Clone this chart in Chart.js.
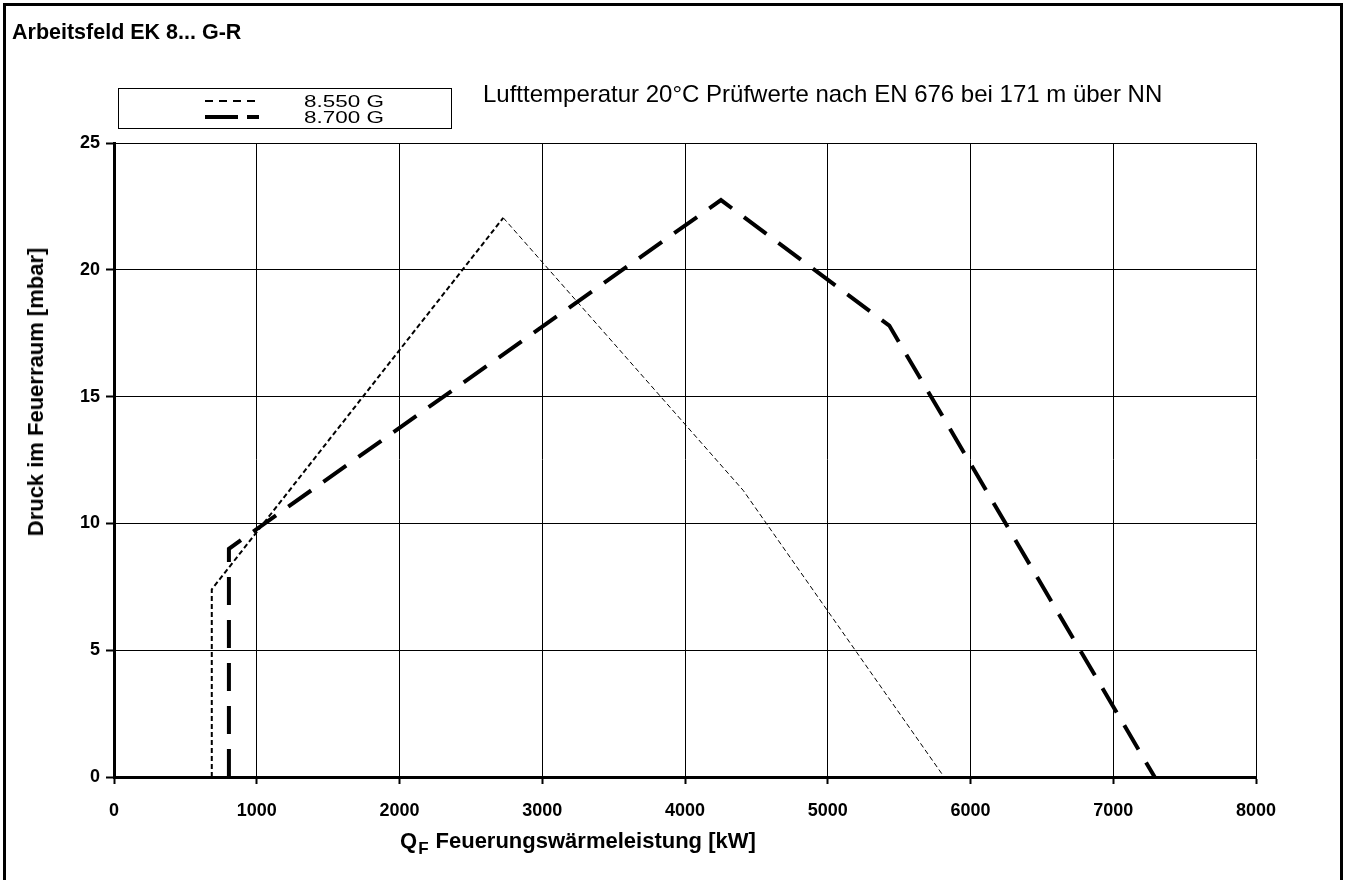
<!DOCTYPE html>
<html>
<head>
<meta charset="utf-8">
<title>Arbeitsfeld EK 8... G-R</title>
<script src="https://cdn.jsdelivr.net/npm/chart.js@4.4.0/dist/chart.umd.min.js"></script>
<style>
    body { margin: 0; background: #fff; font-family: Arial, "Liberation Sans", sans-serif; color: #000; }
    #page { position: relative; width: 1346px; height: 880px; overflow: hidden; }
    #frame { position: absolute; left: 3px; top: 3px; width: 1334px; height: 900px; border: 3px solid #000; }
    #chartBox { position: absolute; left: 0; top: 0; width: 1346px; height: 880px; }
    #title { position: absolute; left: 12px; top: 20px; font-weight: bold; font-size: 21.5px; white-space: nowrap; }
    #subtitle { position: absolute; left: 483px; top: 80px; font-size: 24px; white-space: nowrap; }
    #legend { position: absolute; left: 118px; top: 88px; width: 334px; height: 41px; border: 1px solid #000; box-sizing: border-box; }
    .legend-row { position: absolute; left: 0; height: 16px; width: 100%; }
    .legend-row svg { position: absolute; left: 86px; top: 0; }
    .legend-row span { position: absolute; left: 185px; top: -1px; font-size: 16.5px; line-height: 18px;
                       transform: scaleX(1.36); transform-origin: left center; white-space: nowrap; }
    #yTitle { position: absolute; left: 36px; top: 392px; transform: translate(-50%, -50%) rotate(-90deg);
              font-weight: bold; font-size: 22px; white-space: nowrap; }
    #xTitle { position: absolute; left: 400px; top: 828px; font-weight: bold; font-size: 22px; white-space: nowrap; }
    #xTitle sub { font-size: 17px; vertical-align: -6px; margin-left: 1px; margin-right: 7px; }
</style>
</head>
<body>
<div id="page">
    <div id="frame"></div>
    <div id="chartBox"><canvas id="fieldChart"></canvas></div>
    <div id="title">Arbeitsfeld EK 8... G-R</div>
    <div id="subtitle">Lufttemperatur 20°C Prüfwerte nach EN 676 bei 171 m über NN</div>
    <div id="legend"></div>
    <div id="yTitle">Druck im Feuerraum [mbar]</div>
    <div id="xTitle">Q<sub>F</sub>Feuerungswärmeleistung [kW]</div>
</div>

<script>
// Series names
const seriesNames = ['8.550 G', '8.700 G'];

// 8.550 G - Feuerungswärmeleistung [kW] / Druck [mbar]
const leistung550 = [685, 685, 2727, 4408, 5815];
const druck550 = [0, 7.4, 22.05, 11.3, 0];

// 8.700 G
const leistung700 = [805, 805, 4252, 5431, 7290];
const druck700 = [0, 9.0, 22.75, 17.8, 0];

// Axis ranges / ticks
const xMin = 0, xMax = 8000, xStep = 1000;
const yMin = 0, yMax = 25, yStep = 5;

// Line styles per series
const lineStyles = [
    { width: 2, dash: [5, 3], legendDash: '8,6' },
    { width: 4, dash: [28, 15], legendDash: '33,9' }
];

function toPoints(xs, ys) {
    return xs.map((x, i) => ({ x: x, y: ys[i] }));
}

// Build legend in HTML
function buildLegend() {
    const legend = document.getElementById('legend');
    seriesNames.forEach((name, i) => {
        const row = document.createElement('div');
        row.className = 'legend-row';
        row.style.top = (i === 0 ? 4 : 20) + 'px';
        const st = lineStyles[i];
        row.innerHTML = `
            <svg width="54" height="16"><line x1="0" y1="8" x2="54" y2="8" stroke="#000"
                stroke-width="${st.width}" stroke-dasharray="${st.legendDash}"/></svg>
            <span>${name}</span>`;
        legend.appendChild(row);
    });
}

function initChart() {
    const ctx = document.getElementById('fieldChart');
    const fontTicks = { family: 'Arial, "Liberation Sans", sans-serif', size: 18, weight: 'bold' };

    new Chart(ctx, {
        type: 'line',
        data: {
            datasets: [
                {
                    label: seriesNames[0],
                    data: toPoints(leistung550, druck550),
                    borderColor: '#000',
                    borderWidth: lineStyles[0].width,
                    borderDash: lineStyles[0].dash,
                    pointRadius: 0,
                    tension: 0,
                    segment: {
                        // thinner line after the peak
                        borderWidth: c => c.p0DataIndex >= 2 ? 1 : undefined
                    }
                },
                {
                    label: seriesNames[1],
                    data: toPoints(leistung700, druck700),
                    borderColor: '#000',
                    borderWidth: lineStyles[1].width,
                    borderDash: lineStyles[1].dash,
                    borderCapStyle: 'butt',
                    pointRadius: 0,
                    tension: 0
                }
            ]
        },
        options: {
            responsive: true,
            maintainAspectRatio: false,
            animation: false,
            layout: { padding: { top: 143, right: 90, left: 0, bottom: 0 } },
            plugins: {
                legend: { display: false },
                tooltip: { enabled: false }
            },
            scales: {
                x: {
                    type: 'linear',
                    min: xMin,
                    max: xMax,
                    afterFit: s => { s.height = 103; },
                    ticks: {
                        stepSize: xStep,
                        color: '#000',
                        font: fontTicks,
                        padding: 16,
                        maxRotation: 0,
                        callback: v => String(v)
                    },
                    grid: { color: '#000', lineWidth: 1, tickLength: 7, tickColor: '#000', tickWidth: 2 },
                    border: { color: '#000', width: 3 }
                },
                y: {
                    type: 'linear',
                    min: yMin,
                    max: yMax,
                    afterFit: s => { s.width = 114; },
                    ticks: {
                        stepSize: yStep,
                        color: '#000',
                        font: fontTicks,
                        padding: 6,
                        callback: v => String(v)
                    },
                    grid: { color: '#000', lineWidth: 1, tickLength: 8, tickColor: '#000', tickWidth: 2 },
                    border: { color: '#000', width: 3 }
                }
            }
        }
    });
}

document.addEventListener('DOMContentLoaded', function() {
    buildLegend();
    initChart();
});
</script>
</body>
</html>
